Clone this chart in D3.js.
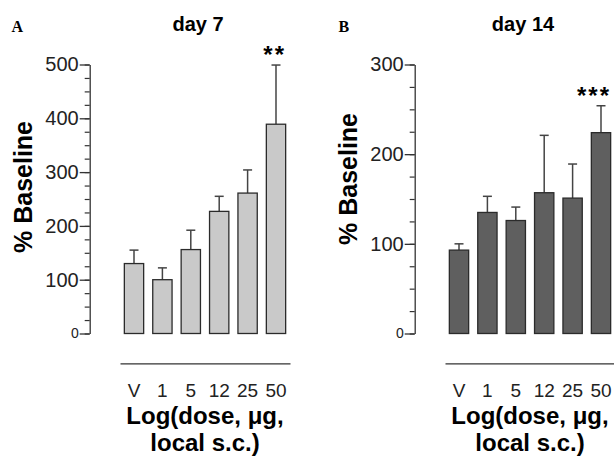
<!DOCTYPE html>
<html>
<head>
<meta charset="utf-8">
<script src="https://cdn.jsdelivr.net/npm/d3@7"></script>
<style>
  body { margin: 0; background: #fff; }
  svg { display: block; font-family: "Liberation Sans", Arial, sans-serif; }
</style>
</head>
<body>
<svg width="614" height="458"></svg>
<script>
// dose groups
var categories = ["V", "1", "5", "12", "25", "50"];

// day 7 (panel A)
var day7Mean = [130, 100, 156, 227, 261, 389];
var day7Err = [25, 22, 36, 28, 43, 110];
var day7Stars = ["", "", "", "", "", "**"];
var day7Ticks = [0, 100, 200, 300, 400, 500];

// day 14 (panel B)
var day14Mean = [93, 135, 126, 157, 151, 224];
var day14Err = [7, 18, 15, 64, 38, 30];
var day14Stars = ["", "", "", "", "", "***"];
var day14Ticks = [0, 100, 200, 300];

var svg = d3.select("svg");

var panels = [
  {letter: "A", title: "day 7", mean: day7Mean, err: day7Err, stars: day7Stars,
   ticks: day7Ticks, fill: "#c9c9c9", dx: 0, labelY: 187},
  {letter: "B", title: "day 14", mean: day14Mean, err: day14Err, stars: day14Stars,
   ticks: day14Ticks, fill: "#5f5f5f", dx: 325, labelY: 179}
];

panels.forEach(function(p) {
  var g = svg.append("g").attr("transform", "translate(" + p.dx + ",0)");
  var top = d3.max(p.ticks);

  var x = d3.scaleBand()
      .domain(categories)
      .range([120, 290])
      .paddingInner(0.32)
      .paddingOuter(0.153);

  var y = d3.scaleLinear()
      .domain([0, top])
      .range([333.5, 64.5]);

  var minor = d3.range(0, top + 1, 25);

  // minor ticks
  g.append("g")
      .attr("transform", "translate(89.7,0)")
      .call(d3.axisLeft(y).tickValues(minor).tickSize(5).tickFormat(""))
      .call(function(a) { a.select(".domain").remove(); })
      .selectAll("line").attr("stroke", "#333").attr("stroke-width", 1.2);

  // major ticks + axis line
  var yAxis = g.append("g")
      .attr("transform", "translate(89.7,0)")
      .call(d3.axisLeft(y).tickValues(p.ticks).tickSize(10).tickSizeOuter(0).tickPadding(1));
  yAxis.select(".domain").attr("stroke", "#333").attr("stroke-width", 1.3);
  yAxis.selectAll("line").attr("stroke", "#333").attr("stroke-width", 1.3);
  yAxis.selectAll("text")
      .attr("fill", "#222")
      .style("font-size", function(d) { return d === 0 ? "14px" : "20px"; })
      .style("font-family", "Liberation Sans, Arial, sans-serif");

  // error bars
  var eb = g.selectAll(".err").data(categories).enter().append("g");
  eb.append("line")
      .attr("x1", function(d) { return x(d) + x.bandwidth() / 2; })
      .attr("x2", function(d) { return x(d) + x.bandwidth() / 2; })
      .attr("y1", function(d, i) { return y(p.mean[i]); })
      .attr("y2", function(d, i) { return y(p.mean[i] + p.err[i]); })
      .attr("stroke", "#444").attr("stroke-width", 1.5);
  eb.append("line")
      .attr("x1", function(d) { return x(d) + x.bandwidth() / 2 - 4.5; })
      .attr("x2", function(d) { return x(d) + x.bandwidth() / 2 + 4.5; })
      .attr("y1", function(d, i) { return y(p.mean[i] + p.err[i]); })
      .attr("y2", function(d, i) { return y(p.mean[i] + p.err[i]); })
      .attr("stroke", "#444").attr("stroke-width", 1.5);

  // bars
  g.selectAll(".bar").data(categories).enter().append("rect")
      .attr("x", function(d) { return x(d); })
      .attr("width", x.bandwidth())
      .attr("y", function(d, i) { return y(p.mean[i]); })
      .attr("height", function(d, i) { return y(0) - y(p.mean[i]); })
      .attr("fill", p.fill)
      .attr("stroke", "#2b2b2b")
      .attr("stroke-width", 1.3);

  // significance stars
  g.selectAll(".star").data(categories).enter().append("text")
      .attr("x", function(d) { return x(d) + x.bandwidth() / 2 + 10; })
      .attr("y", function(d, i) { return y(p.mean[i] + p.err[i]) - 2; })
      .attr("text-anchor", "end")
      .style("font-size", "24px")
      .style("font-weight", "bold")
      .style("letter-spacing", "2px")
      .text(function(d, i) { return p.stars[i]; });

  // x axis (detached below bars)
  var xAxis = g.append("g")
      .attr("transform", "translate(0,363.3)")
      .call(d3.axisBottom(x).tickSize(0).tickSizeOuter(0).tickPadding(20));
  xAxis.select(".domain").attr("stroke", "#333").attr("stroke-width", 1.3);
  xAxis.selectAll("text")
      .attr("fill", "#222")
      .style("font-size", "19px")
      .style("font-family", "Liberation Sans, Arial, sans-serif");

  g.append("text")
      .attr("x", 205).attr("y", 424)
      .attr("text-anchor", "middle")
      .style("font-size", "24px").style("font-weight", "bold")
      .text("Log(dose, μg,");
  g.append("text")
      .attr("x", 205).attr("y", 451)
      .attr("text-anchor", "middle")
      .style("font-size", "24px").style("font-weight", "bold")
      .text("local s.c.)");

  // y label
  g.append("text")
      .attr("transform", "translate(32," + p.labelY + ") rotate(-90)")
      .attr("text-anchor", "middle")
      .style("font-size", "25px").style("font-weight", "bold")
      .text("% Baseline");

  // title
  g.append("text")
      .attr("x", 198).attr("y", 30.5)
      .attr("text-anchor", "middle")
      .style("font-size", "20px").style("font-weight", "bold")
      .text(p.title);

  // panel letter
  g.append("text")
      .attr("x", 11.5 + (p.letter === "B" ? 2 : 0)).attr("y", 31.5)
      .style("font-family", "Liberation Serif, Times New Roman, serif")
      .style("font-size", "16px").style("font-weight", "bold")
      .text(p.letter);
});
</script>
</body>
</html>
